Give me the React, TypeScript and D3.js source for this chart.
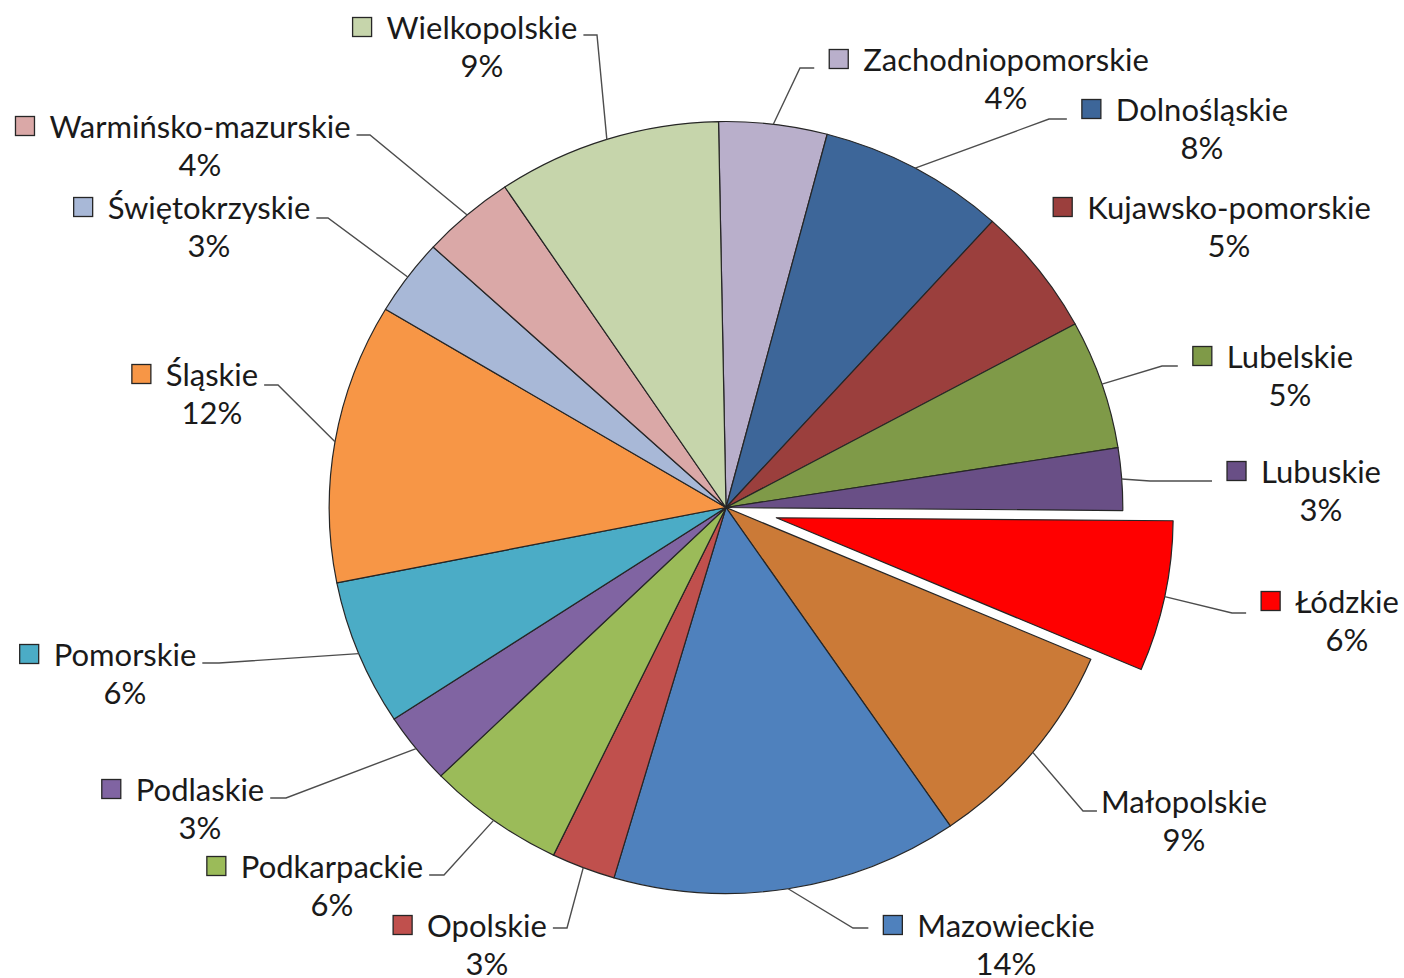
import React, { useEffect, useRef } from "react";
import * as d3 from "d3";

// shares by voivodeship, clockwise from 12 o'clock
const regions = [
  "Zachodniopomorskie",
  "Dolnośląskie",
  "Kujawsko-pomorskie",
  "Lubelskie",
  "Lubuskie",
  "Łódzkie",
  "Małopolskie",
  "Mazowieckie",
  "Opolskie",
  "Podkarpackie",
  "Podlaskie",
  "Pomorskie",
  "Śląskie",
  "Świętokrzyskie",
  "Warmińsko-mazurskie",
  "Wielkopolskie",
];
const shares = [4.4, 7.6, 5.4, 5.4, 2.6, 6.3, 9.0, 14.1, 2.6, 5.6, 3.0, 6.1, 11.7, 3.2, 3.8, 9.1];
const sliceColors = [
  "#b9afcb", "#3d6699", "#9b3f3d", "#7f9a48", "#694f86", "#ff0000", "#cb7a37", "#4f81bd",
  "#c0504d", "#9bbb59", "#8064a2", "#4bacc6", "#f79646", "#a8b8d7", "#daa8a7", "#c6d5ab",
];
const explodedRegion = "Łódzkie";

// labels were dragged by hand in the original, so their spots are fixed here
// x,y = centre of the name line, ex,ey = elbow of the leader line
const labelSpots = [
  { x: 1006, y: 60, ex: 800, ey: 68, key: true },
  { x: 1202, y: 110, ex: 1049, ey: 119, key: true },
  { x: 1229, y: 208, ex: null, ey: null, key: true },
  { x: 1290, y: 357, ex: 1162, ey: 366, key: true },
  { x: 1321, y: 472, ex: 1150, ey: 481, key: true },
  { x: 1347, y: 602, ex: 1232, ey: 613, key: true },
  { x: 1184, y: 802, ex: 1083, ey: 811, key: false },
  { x: 1006, y: 926, ex: 853, ey: 928, key: true },
  { x: 487, y: 926, ex: 567, ey: 928, key: true },
  { x: 332, y: 867, ex: 444, ey: 875, key: true },
  { x: 200, y: 790, ex: 286, ey: 798, key: true },
  { x: 125, y: 655, ex: 219, ey: 663, key: true },
  { x: 212, y: 375, ex: 278, ey: 385, key: true },
  { x: 209, y: 208, ex: 328, ey: 218, key: true },
  { x: 200, y: 127, ex: 370, ey: 135, key: true },
  { x: 482, y: 28, ex: 597, ey: 35, key: true },
];

const App = () => {
  const svgRef = useRef<SVGSVGElement>(null);

  useEffect(() => {
    const svg = d3.select(svgRef.current);
    svg.selectAll("*").remove();

    const cx = 726;
    const cy = 507.5;
    const sx = 1.028; // the original pie is slightly wider than tall
    const radius = 386;
    const explode = 50;
    const start = (-1.08 * Math.PI) / 180;

    const total = d3.sum(shares);
    const pie = d3
      .pie<number>()
      .sort(null)
      .value((d) => d)
      .startAngle(start)
      .endAngle(start + 2 * Math.PI);
    const arcs = pie(shares);
    const arc = d3.arc<d3.PieArcDatum<number>>().innerRadius(0).outerRadius(radius);

    const offsetOf = (i: number) => {
      if (regions[i] !== explodedRegion) return [0, 0];
      const mid = (arcs[i].startAngle + arcs[i].endAngle) / 2;
      return [explode * Math.sin(mid), -explode * Math.cos(mid)];
    };

    const g = svg.append("g").attr("transform", `translate(${cx},${cy}) scale(${sx},1)`);
    g.selectAll("path")
      .data(arcs)
      .enter()
      .append("path")
      .attr("d", (d) => arc(d) as string)
      .attr("transform", (d, i) => {
        const [ox, oy] = offsetOf(i);
        return `translate(${ox},${oy})`;
      })
      .attr("fill", (d, i) => sliceColors[i])
      .attr("stroke", "#262626")
      .attr("stroke-width", 1.2)
      .attr("stroke-linejoin", "round")
      .attr("vector-effect", "non-scaling-stroke");

    const labels = svg.append("g").attr("font-family", "Lato, 'Open Sans', sans-serif").attr("font-size", 31);

    arcs.forEach((a, i) => {
      const spot = labelSpots[i];
      const name = labels
        .append("text")
        .attr("x", spot.x)
        .attr("y", spot.y)
        .attr("dy", "0.35em")
        .attr("text-anchor", "middle")
        .attr("fill", "#1a1a1a")
        .text(regions[i]);
      const w = (name.node() as SVGTextElement).getComputedTextLength();
      const left = spot.x - w / 2;
      const right = spot.x + w / 2;

      labels
        .append("text")
        .attr("x", spot.x)
        .attr("y", spot.y + 38)
        .attr("dy", "0.35em")
        .attr("text-anchor", "middle")
        .attr("fill", "#1a1a1a")
        .text(`${Math.round((a.value / total) * 100)}%`);

      if (spot.key) {
        labels
          .append("rect")
          .attr("x", left - 34)
          .attr("y", spot.y - 10.5)
          .attr("width", 19)
          .attr("height", 19)
          .attr("fill", sliceColors[i])
          .attr("stroke", "#262626")
          .attr("stroke-width", 1.3);
      }

      if (spot.ex == null) return;
      const mid = (a.startAngle + a.endAngle) / 2;
      const [ox, oy] = offsetOf(i);
      const edge: [number, number] = [
        cx + sx * (radius * Math.sin(mid) + ox),
        cy - radius * Math.cos(mid) + oy,
      ];
      const onLeft = spot.ex > spot.x;
      const endX = onLeft ? right + 6 : spot.key ? left - 49 : left - 4;
      const line = d3.line();
      svg
        .append("path")
        .attr("d", line([edge, [spot.ex, spot.ey], [endX, spot.ey]]) as string)
        .attr("fill", "none")
        .attr("stroke", "#4d4d4d")
        .attr("stroke-width", 1.4);
    });
  }, []);

  return (
    <svg
      ref={svgRef}
      width={1404}
      height={978}
      style={{ position: "absolute", left: 0, top: 0, background: "#fff" }}
    ></svg>
  );
};

export default App;
